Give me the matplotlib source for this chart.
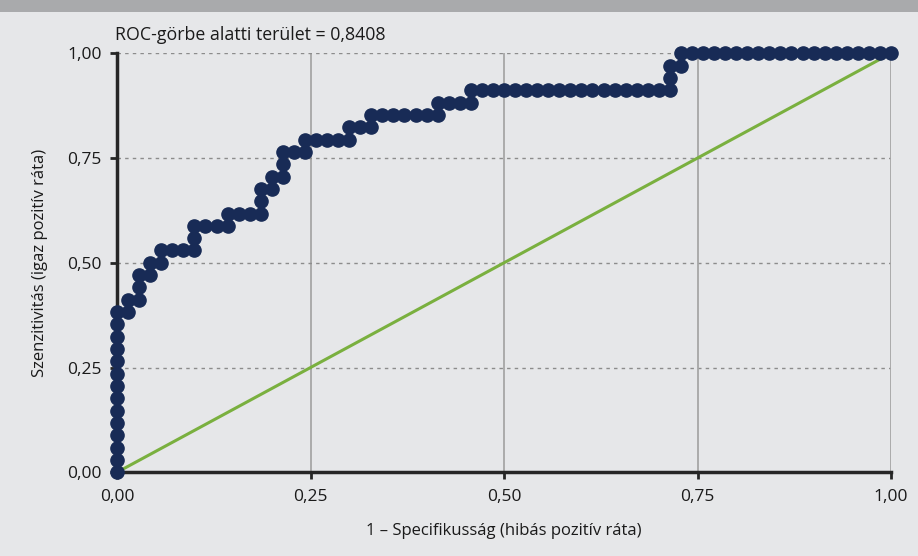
import matplotlib
matplotlib.use("Agg")
import matplotlib.pyplot as plt
from matplotlib.patches import Rectangle

# ROC curve points, as counts of false positives (of 70 negatives) and true positives (of 34 positives)
n_negatives = 70
n_positives = 34
false_pos = [0, 0, 0, 0, 0, 0, 0, 0, 0, 0, 0, 0, 0, 0,
             1, 1, 2, 2, 2, 3, 3, 4, 4, 5, 6, 7, 7, 7, 8, 9, 10, 10, 11, 12,
             13, 13, 13, 14, 14, 15, 15, 15, 16, 17, 17, 18, 19, 20, 21, 21,
             22, 23, 23, 24, 25, 26, 27, 28, 29, 29, 30, 31, 32, 32,
             33, 34, 35, 36, 37, 38, 39, 40, 41, 42, 43, 44, 45, 46, 47, 48, 49,
             50, 50, 50, 51, 51,
             52, 53, 54, 55, 56, 57, 58, 59, 60, 61, 62, 63, 64, 65, 66, 67, 68, 69, 70]
true_pos = [0, 1, 2, 3, 4, 5, 6, 7, 8, 9, 10, 11, 12, 13,
            13, 14, 14, 15, 16, 16, 17, 17, 18, 18, 18, 18, 19, 20, 20, 20, 20, 21, 21, 21,
            21, 22, 23, 23, 24, 24, 25, 26, 26, 26, 27, 27, 27, 27, 27, 28,
            28, 28, 29, 29, 29, 29, 29, 29, 29, 30, 30, 30, 30, 31,
            31, 31, 31, 31, 31, 31, 31, 31, 31, 31, 31, 31, 31, 31, 31, 31, 31,
            31, 32, 33, 33, 34,
            34, 34, 34, 34, 34, 34, 34, 34, 34, 34, 34, 34, 34, 34, 34, 34, 34, 34, 34]
diag_x = [0.0, 1.0]
diag_y = [0.0, 1.0]
ticks = [0.0, 0.25, 0.5, 0.75, 1.0]
tick_labels = ["0,00", "0,25", "0,50", "0,75", "1,00"]
auc_text = "ROC-görbe alatti terület = 0,8408"
x_label = "1 – Specifikusság (hibás pozitív ráta)"
y_label = "Szenzitivitás (igaz pozitív ráta)"

fpr = [v / n_negatives for v in false_pos]
tpr = [v / n_positives for v in true_pos]

plt.rcParams['font.family'] = ['Open Sans', 'DejaVu Sans']

bg = "#e6e7e9"
fig = plt.figure(figsize=(9.18, 5.56), dpi=100, facecolor=bg)
# top band
fig.patches.append(Rectangle((0, 1 - 12 / 556), 1, 12 / 556, transform=fig.transFigure,
                             facecolor="#a9aaac", edgecolor="none", zorder=0))

ax = fig.add_axes([117 / 918, 83.7 / 556, 774 / 918, 419 / 556])
ax.set_facecolor(bg)
ax.set_xlim(0, 1)
ax.set_ylim(0, 1)

# grid
for t in ticks[1:]:
    ax.axvline(t, color="#a6a6a6", lw=1.3, zorder=1)
    ax.axhline(t, color="#8c8c8c", lw=1.0, ls=(0, (2.5, 3)), zorder=1)

ax.plot(diag_x, diag_y, color="#7ab03f", lw=2.2, zorder=2, clip_on=False)
ax.plot(fpr, tpr, color="#182b56", lw=2, marker="o", ms=9.5, mec="#182b56",
        mfc="#182b56", zorder=3, clip_on=False)

for s in ["top", "right"]:
    ax.spines[s].set_visible(False)
for s in ["left", "bottom"]:
    ax.spines[s].set_color("#262626")
    ax.spines[s].set_linewidth(2.5)

ax.set_xticks(ticks)
ax.set_xticklabels(tick_labels)
ax.set_yticks(ticks)
ax.set_yticklabels(tick_labels)
ax.tick_params(direction="out", length=5, width=2, color="#262626",
               labelsize=12.5, labelcolor="#1a1a1a", pad=6)
ax.tick_params(axis="x", pad=7)

ax.set_xlabel(x_label, fontsize=12, color="#1a1a1a", labelpad=13)
ax.set_ylabel(y_label, fontsize=12, color="#1a1a1a", labelpad=14)

fig.text(115 / 918, 1 - 35 / 556, auc_text, fontsize=12.8, color="#1a1a1a",
         ha="left", va="center")

fig.savefig("out.png", dpi=100, facecolor=bg)
